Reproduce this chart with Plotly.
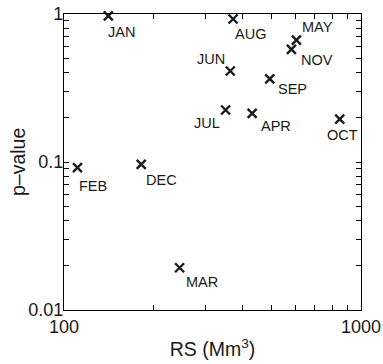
import numpy as np
import plotly.graph_objects as go

# Monthly reservoir storage vs. p-value
months = ["JAN", "FEB", "MAR", "APR", "MAY", "JUN",
          "JUL", "AUG", "SEP", "OCT", "NOV", "DEC"]
rs_mm3 = [141, 111, 245, 430, 606, 363, 350, 371, 493, 848, 583, 182]
p_values = [0.97, 0.0916, 0.0193, 0.213, 0.667, 0.412,
            0.2245, 0.925, 0.364, 0.195, 0.577, 0.0965]

x_ticks = [100, 1000]
x_tick_text = ["100", "1000"]
x_minor = [200, 300, 400, 500, 600, 700, 800, 900]
y_ticks = [0.01, 0.1, 1]
y_tick_text = ["0.01", "0.1", "1"]
y_minor = [0.02, 0.03, 0.04, 0.05, 0.06, 0.07, 0.08, 0.09,
           0.2, 0.3, 0.4, 0.5, 0.6, 0.7, 0.8, 0.9]

# label placement relative to each marker: (xanchor, xshift px, yshift px)
label_offsets = {
    "JAN": ("left", -2, -16), "FEB": ("left", 0, -18), "MAR": ("left", 4, -14),
    "APR": ("left", 7, -13), "MAY": ("left", 4, 13), "JUN": ("right", -3, 12),
    "JUL": ("right", -4, -13), "AUG": ("left", 0, -15), "SEP": ("left", 6, -10),
    "OCT": ("center", 3, -16), "NOV": ("left", 8, -11), "DEC": ("left", 3, -16),
}

ink = "#1a1a1a"
font_family = "Liberation Sans, Arial, Helvetica, sans-serif"

fig = go.Figure()
fig.add_trace(go.Scatter(
    x=rs_mm3, y=p_values, mode="markers",
    marker=dict(symbol="x-thin", size=9, line=dict(width=2.4, color=ink), color=ink),
    cliponaxis=False, showlegend=False, hoverinfo="skip",
))

for m, xv, yv in zip(months, rs_mm3, p_values):
    anchor, dx, dy = label_offsets[m]
    fig.add_annotation(
        x=np.log10(xv), y=np.log10(yv), text=m, showarrow=False,
        xanchor=anchor, yanchor="middle", xshift=dx, yshift=dy,
        font=dict(family=font_family, size=14.5, color=ink),
    )

# y-axis title, tucked in close to the narrow "1" / "0.1" labels
fig.add_annotation(
    xref="paper", yref="paper", x=0, y=0.5, xshift=-46, xanchor="center",
    yanchor="middle", textangle=-90, text="p–value", showarrow=False,
    font=dict(family=font_family, size=19.5, color=ink),
)


def all_ticks(major, labels, minor):
    # labelled decades plus unlabelled in-between ticks
    vals = list(major) + list(minor)
    text = list(labels) + [""] * len(minor)
    return vals, text


axis_common = dict(
    type="log", showgrid=False, zeroline=False, automargin=False,
    showline=True, linecolor="black", linewidth=1.2, mirror="allticks",
    ticks="inside", ticklen=4.5, tickwidth=1.2, tickcolor="black",
    tickfont=dict(family=font_family, size=18, color=ink),
)

xv_all, xt_all = all_ticks(x_ticks, x_tick_text, x_minor)
yv_all, yt_all = all_ticks(y_ticks, y_tick_text, y_minor)

fig.update_xaxes(
    range=[2, 3], tickmode="array", tickvals=xv_all, ticktext=xt_all,
    title=dict(text="RS (Mm<sup>3</sup>)", standoff=6,
               font=dict(family=font_family, size=19.5, color=ink)),
    **axis_common,
)
fig.update_yaxes(
    range=[-2, 0], tickmode="array", tickvals=yv_all, ticktext=yt_all,
    ticklabelstandoff=-4,
    **axis_common,
)

fig.update_layout(
    width=383, height=364,
    margin=dict(l=64, r=22, t=14, b=54),
    plot_bgcolor="white", paper_bgcolor="white",
)

fig.write_html("out.html")
